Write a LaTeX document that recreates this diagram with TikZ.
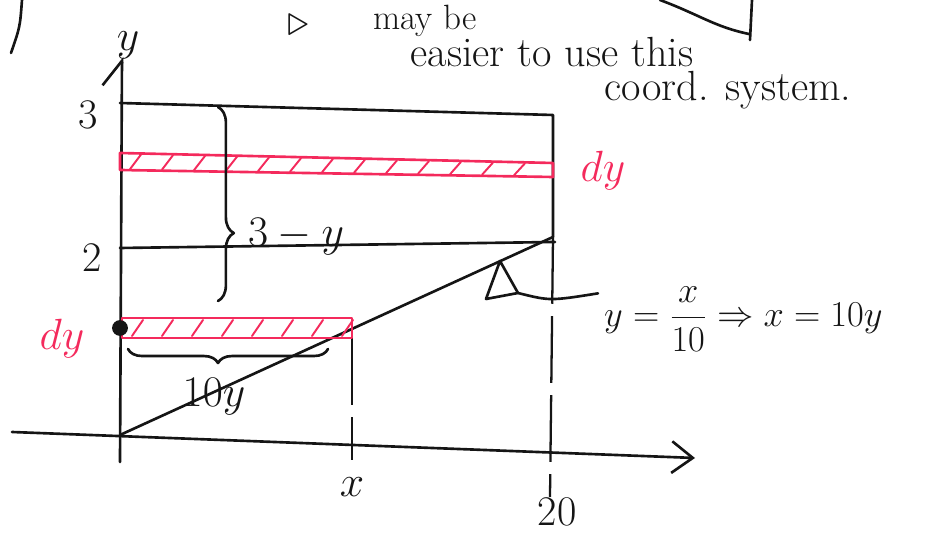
\documentclass[tikz,border=0pt]{standalone}
\usepackage{xcolor}
\usepackage{amsmath}
\usepackage{tikz}
\usetikzlibrary{arrows.meta,decorations.pathreplacing}
\definecolor{SKETCHink}{HTML}{151515}
\definecolor{SKETCHred}{HTML}{F42A5C}

\begin{document}
\begin{tikzpicture}[x=0.02cm, y=0.02cm,
  ink/.style={draw=SKETCHink, line width=1.5pt, line cap=round, line join=round},
  strip/.style={draw=SKETCHred, line width=1.5pt, line join=round},
  hatch/.style={draw=SKETCHred, line width=1.1pt, line cap=round},
  guide/.style={draw=SKETCHink, line width=1.3pt, dash pattern=on 38pt off 7pt},
  lbl/.style={font=\fontsize{24}{28}\selectfont, text=SKETCHink},
  redlbl/.style={font=\fontsize{24}{28}\selectfont, text=SKETCHred},
  note/.style={font=\fontsize{24}{28}\selectfont, text=SKETCHink}]
\useasboundingbox (0,0) rectangle (933,537);
% axes
\coordinate (O) at (120,102);
\coordinate (yBot) at (120,75);
\coordinate (yTop) at (122,480);
\coordinate (xLeft) at (12,105);
\coordinate (xRight) at (695,79);
\draw[ink, -{Straight Barb[left, length=14pt, width=22pt]}] (yBot) -- (yTop);
\draw[ink, -{Straight Barb[length=12pt, width=18pt]}] (xLeft) -- (xRight);
\node[lbl] (yName) at (128,492) {$y$};
% the line y = x/10 and the two levels
\coordinate (P20) at (553,300);
\coordinate (Y2L) at (120,289); \coordinate (Y2R) at (555,295);
\coordinate (Y3L) at (120,434); \coordinate (Y3R) at (553,422);
\draw[ink] (O) -- (P20);
\draw[ink] (Y2L) -- (Y2R);
\draw[ink] (Y3L) -- (Y3R) -- (P20);
\node[lbl] (tick3) at (88,422) {3};
\node[lbl] (tick2) at (92,279) {2};
% dashed drops to the x axis
\coordinate (X20) at (550,40);
\draw[guide] (P20) -- (X20);
\node[lbl] (tick20) at (557,25) {20};
\coordinate (Xtop) at (352,199); \coordinate (Xbot) at (352,77);
\draw[guide] (Xtop) -- (Xbot);
\node[lbl] (tickx) at (352,50) {$x$};
% upper strip
\draw[strip] (120,384) -- (553,374) -- (553,360) -- (120,367) -- cycle;
\foreach \x in {130,162,...,530}
  \draw[hatch] ({\x},{368-(\x-120)*0.016}) -- ({\x+11},{383-(\x-109)*0.023});
\node[redlbl] (dyUp) at (603,366) {$dy$};
% lower strip
\draw[strip] (122,199) rectangle (352,219);
\foreach \x in {132,162,...,342}
  \draw[hatch] (\x,201) -- (\x+11,217);
\fill[SKETCHink] (120,209) circle (4.5pt);
\node[redlbl] (dyLow) at (62,198) {$dy$};
% braces
\draw[ink, decorate, decoration={brace, amplitude=8pt, mirror, aspect=0.45}] (128,188) -- (328,188);
\node[lbl] (tenY) at (214,140) {$10y$};
\draw[ink, decorate, decoration={brace, amplitude=9pt, aspect=0.65}] (218,430) -- (218,236);
\node[lbl] (threeMinusY) at (296,300) {$3-y$};
% callout to the formula
\coordinate (M1) at (500,276); \coordinate (M2) at (486,238); \coordinate (M3) at (518,244);
\draw[ink] (M1) -- (M2) -- (M3) -- cycle;
\node[lbl, font=\fontsize{22}{26}\selectfont, anchor=west] (formula) at (598,218) {$y=\dfrac{x}{10}\Rightarrow x=10y$};
\draw[ink] (M3) .. controls (550,236) .. (formula.170);
% note at the top
\node[note] (triMark) at (298,512) {$\triangleright$};
\node[note, font=\fontsize{20}{24}\selectfont, anchor=north] (mayBe) at (425,538) {may be};
\node[note] (easier) at (552,485) {easier to use this};
\node[note] (coordSys) at (728,447) {coord. system.};
\draw[ink] (22,537) .. controls (20,510) .. (11,484);
\draw[ink] (660,537) .. controls (700,522) and (715,510) .. (749,503);
\draw[ink] (752,537) -- (750,497);
\end{tikzpicture}
\end{document}
